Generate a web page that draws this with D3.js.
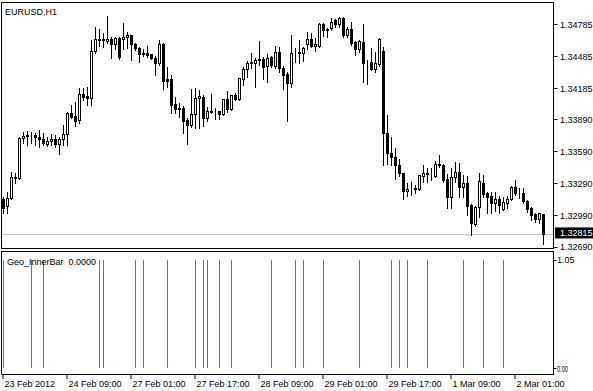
<!DOCTYPE html>
<html>
<head>
<meta charset="utf-8">
<script src="https://cdn.jsdelivr.net/npm/d3@7"></script>
<style>
  body { margin: 0; background: #fff; }
  svg text { font-family: "Liberation Sans", Arial, sans-serif; font-size: 9px; }
</style>
</head>
<body>
<div class="chart_box"></div>
<script>
// EURUSD H1, 23 Feb 2012 17:00 .. 2 Mar 2012 08:00 (136 bars)
var open = [1.33138,1.33076,1.33154,1.33335,1.33341,1.33715,1.33731,1.33737,1.33743,1.33721,
  1.33700,1.33653,1.33684,1.33700,1.33653,1.33706,1.33746,1.33949,1.33918,1.33881,
  1.34121,1.34111,1.34090,1.34526,1.34629,1.34636,1.34620,1.34642,1.34589,1.34651,
  1.34636,1.34661,1.34673,1.34589,1.34558,1.34511,1.34505,1.34495,1.34464,1.34417,
  1.34589,1.34261,1.34261,1.34027,1.33996,1.33990,1.33877,1.33831,1.33934,1.34083,
  1.34099,1.33902,1.33959,1.33965,1.33965,1.33940,1.34074,1.33987,1.34115,1.34080,
  1.34261,1.34355,1.34417,1.34417,1.34442,1.34455,1.34386,1.34470,1.34386,1.34517,
  1.34370,1.34308,1.34230,1.34517,1.34505,1.34505,1.34589,1.34636,1.34579,1.34573,
  1.34785,1.34720,1.34745,1.34817,1.34776,1.34838,1.34682,1.34735,1.34611,1.34542,
  1.34614,1.34427,1.34423,1.34361,1.34402,1.34526,1.33762,1.33575,1.33537,1.33459,
  1.33388,1.33216,1.33232,1.33232,1.33238,1.33356,1.33375,1.33378,1.33356,1.33456,
  1.33459,1.33325,1.33163,1.33350,1.33397,1.33257,1.33288,1.33082,1.32904,1.33069,
  1.33294,1.33200,1.33169,1.33107,1.33138,1.33051,1.33107,1.33144,1.33257,1.33207,
  1.33200,1.33122,1.33060,1.32998,1.32951,1.32998];
var high = [1.33169,1.33216,1.33403,1.33394,1.33731,1.33778,1.33784,1.33778,1.33762,1.33793,
  1.33762,1.33731,1.33753,1.33746,1.33731,1.33840,1.33965,1.34027,1.34058,1.34183,
  1.34183,1.34199,1.34636,1.34754,1.34735,1.34698,1.34860,1.34667,1.34661,1.34661,
  1.34792,1.34714,1.34682,1.34611,1.34573,1.34548,1.34583,1.34505,1.34486,1.34636,
  1.34604,1.34386,1.34308,1.34105,1.34043,1.34018,1.33902,1.34174,1.34183,1.34168,
  1.34121,1.34012,1.34127,1.33996,1.33971,1.34080,1.34161,1.34121,1.34136,1.34277,
  1.34386,1.34442,1.34517,1.34464,1.34629,1.34480,1.34505,1.34486,1.34579,1.34573,
  1.34392,1.34339,1.34682,1.34558,1.34636,1.34573,1.34714,1.34704,1.34651,1.34798,
  1.34792,1.34748,1.34838,1.34829,1.34848,1.34848,1.34754,1.34807,1.34629,1.34636,
  1.34785,1.34448,1.34558,1.34526,1.34651,1.34573,1.33934,1.33731,1.33628,1.33519,
  1.33394,1.33300,1.33310,1.33278,1.33363,1.33466,1.33434,1.33434,1.33506,1.33559,
  1.33475,1.33381,1.33434,1.33491,1.33481,1.33372,1.33363,1.33101,1.33082,1.33388,
  1.33372,1.33216,1.33216,1.33216,1.33175,1.33163,1.33175,1.33269,1.33325,1.33247,
  1.33247,1.33138,1.33069,1.33013,1.33013,1.33007];
var low = [1.33013,1.33013,1.33144,1.33294,1.33335,1.33668,1.33653,1.33668,1.33653,1.33637,
  1.33653,1.33643,1.33653,1.33637,1.33565,1.33653,1.33653,1.33902,1.33831,1.33856,
  1.34074,1.34027,1.34027,1.34511,1.34579,1.34573,1.34604,1.34464,1.34548,1.34455,
  1.34548,1.34558,1.34448,1.34542,1.34433,1.34486,1.34473,1.34455,1.34308,1.34402,
  1.34174,1.34193,1.33949,1.33949,1.33918,1.33762,1.33662,1.33818,1.33809,1.33815,
  1.33831,1.33881,1.33949,1.33893,1.33893,1.33934,1.33962,1.33980,1.34074,1.34074,
  1.34214,1.34292,1.34370,1.34199,1.34402,1.34267,1.34246,1.34386,1.34370,1.34339,
  1.34174,1.33881,1.34199,1.34433,1.34417,1.34442,1.34548,1.34573,1.34536,1.34567,
  1.34673,1.34667,1.34729,1.34760,1.34760,1.34667,1.34661,1.34589,1.34495,1.34526,
  1.34246,1.34224,1.34355,1.34339,1.34395,1.33466,1.33475,1.33466,1.33331,1.33363,
  1.33144,1.33175,1.33185,1.33200,1.33232,1.33310,1.33310,1.33325,1.33350,1.33450,
  1.33310,1.33060,1.33060,1.33310,1.33169,1.33169,1.32998,1.32810,1.32895,1.32982,
  1.33169,1.33013,1.33013,1.33038,1.33013,1.33044,1.33060,1.33138,1.33185,1.33154,
  1.33107,1.33029,1.32951,1.32935,1.32926,1.32726];
var close = [1.33060,1.33154,1.33347,1.33347,1.33715,1.33731,1.33740,1.33743,1.33721,1.33700,
  1.33662,1.33684,1.33700,1.33653,1.33706,1.33746,1.33949,1.33912,1.33871,1.34127,
  1.34099,1.34090,1.34526,1.34636,1.34636,1.34629,1.34642,1.34589,1.34651,1.34473,
  1.34661,1.34673,1.34589,1.34558,1.34495,1.34501,1.34486,1.34464,1.34417,1.34589,
  1.34246,1.34246,1.34018,1.33980,1.33980,1.33871,1.33831,1.33940,1.34090,1.34105,
  1.33902,1.33965,1.33965,1.33962,1.33940,1.34074,1.33987,1.34115,1.34080,1.34271,
  1.34355,1.34417,1.34423,1.34448,1.34455,1.34380,1.34464,1.34392,1.34517,1.34370,
  1.34299,1.34230,1.34511,1.34520,1.34520,1.34558,1.34636,1.34579,1.34589,1.34785,
  1.34723,1.34735,1.34798,1.34776,1.34838,1.34673,1.34735,1.34604,1.34548,1.34620,
  1.34417,1.34424,1.34361,1.34411,1.34642,1.33762,1.33575,1.33537,1.33459,1.33388,
  1.33216,1.33238,1.33238,1.33241,1.33363,1.33381,1.33381,1.33372,1.33466,1.33466,
  1.33319,1.33163,1.33350,1.33397,1.33257,1.33288,1.33076,1.32913,1.33069,1.33310,
  1.33185,1.33163,1.33107,1.33138,1.33082,1.33113,1.33144,1.33257,1.33200,1.33204,
  1.33122,1.33051,1.32988,1.32951,1.33007,1.32815];

// bars where Geo_InnerBar = 1
var innerBars = [0,7,10,24,25,33,35,41,48,50,51,54,57,67,73,75,80,89,97,99,101,106,115,120,125];

var priceTicks = [1.34785,1.34485,1.34185,1.33890,1.33590,1.33290,1.32990,1.32690];
var lastPrice = 1.32815;
var timeLabels = ["23 Feb 2012","24 Feb 09:00","27 Feb 01:00","27 Feb 17:00","28 Feb 09:00",
  "29 Feb 01:00","29 Feb 17:00","1 Mar 09:00","2 Mar 01:00"];
var timeLabelBars = [0,16,32,48,64,80,96,112,128];
var indTicks = [1.05, 0];

var width = 593, height = 391;
var left = 1.5, right = 553.5;
var mainTop = 2.5, mainBottom = 248.5;
var indTop = 251.5, indBottom = 374.5;

var bars = open.map(function(o, i) {
  return {i: i, o: o, h: high[i], l: low[i], c: close[i]};
});

var svg = d3.select(".chart_box").append("svg")
  .attr("width", width)
  .attr("height", height);

var xScale = d3.scaleLinear().domain([0, 135]).range([3.5, 543.5]);
var yScale = d3.scaleLinear().domain([1.32690, 1.34785]).range([247.8, 24]);
var yInd = d3.scaleLinear().domain([0, 1]).range([368, 260]);

function px(v) { return Math.round(v - 0.5) + 0.5; }

svg.append("clipPath").attr("id", "mainClip")
  .append("rect").attr("x", left).attr("y", mainTop)
  .attr("width", right - left).attr("height", mainBottom - mainTop);

// current price line
svg.append("line")
  .attr("x1", left).attr("x2", right)
  .attr("y1", px(yScale(lastPrice))).attr("y2", px(yScale(lastPrice)))
  .attr("stroke", "#c0c0c0").attr("stroke-width", 1);

var candles = svg.append("g").attr("clip-path", "url(#mainClip)")
  .attr("shape-rendering", "crispEdges");

candles.selectAll(".wick").data(bars).enter()
  .append("line")
  .attr("class", "wick")
  .attr("x1", d => xScale(d.i)).attr("x2", d => xScale(d.i))
  .attr("y1", d => Math.round(yScale(d.h)))
  .attr("y2", d => Math.round(yScale(d.l)) + 1)
  .attr("stroke", "#000");

candles.selectAll(".body").data(bars).enter()
  .append("rect")
  .attr("class", "body")
  .attr("x", d => xScale(d.i) - 1)
  .attr("y", d => px(yScale(Math.max(d.o, d.c))))
  .attr("width", 2)
  .attr("height", d => Math.max(0, px(yScale(Math.min(d.o, d.c))) - px(yScale(Math.max(d.o, d.c)))))
  .attr("fill", d => d.c >= d.o ? "#fff" : "#000")
  .attr("stroke", "#000");

// frames
svg.append("rect")
  .attr("x", left).attr("y", mainTop)
  .attr("width", right - left).attr("height", mainBottom - mainTop)
  .attr("fill", "none").attr("stroke", "#000");
svg.append("rect")
  .attr("x", left).attr("y", indTop)
  .attr("width", right - left).attr("height", indBottom - indTop)
  .attr("fill", "none").attr("stroke", "#000");

svg.append("text").attr("x", 5).attr("y", 15).text("EURUSD,H1");

// price axis
var pAxis = svg.append("g");
pAxis.selectAll("line").data(priceTicks).enter()
  .append("line")
  .attr("x1", right).attr("x2", right + 4)
  .attr("y1", d => px(yScale(d))).attr("y2", d => px(yScale(d)))
  .attr("stroke", "#000");
pAxis.selectAll("text").data(priceTicks).enter()
  .append("text")
  .attr("x", 560)
  .attr("y", d => Math.min(yScale(d), 246) + 3.5)
  .text(d => d.toFixed(5));

pAxis.append("rect")
  .attr("x", 555).attr("y", yScale(lastPrice) - 7)
  .attr("width", 38).attr("height", 11)
  .attr("fill", "#000");
pAxis.append("text")
  .attr("x", 560).attr("y", yScale(lastPrice) + 1.5)
  .attr("fill", "#fff")
  .text(lastPrice.toFixed(5));

// indicator window
svg.append("g").attr("shape-rendering", "crispEdges")
  .selectAll("line").data(innerBars).enter()
  .append("line")
  .attr("x1", d => xScale(d)).attr("x2", d => xScale(d))
  .attr("y1", yInd(1)).attr("y2", yInd(0))
  .attr("stroke", "#808000");

svg.append("text").attr("x", 7).attr("y", 265).text("Geo_InnerBar  0.0000").attr("xml:space", "preserve");

svg.append("text").attr("x", 557).attr("y", yInd(1) + 3).text(indTicks[0].toFixed(2));
svg.append("text").attr("x", 557).attr("y", yInd(0) + 3.5)
  .attr("textLength", 11).attr("lengthAdjust", "spacingAndGlyphs")
  .text(indTicks[1].toFixed(2));
svg.append("line").attr("x1", right).attr("x2", right + 3)
  .attr("y1", px(yInd(1))).attr("y2", px(yInd(1))).attr("stroke", "#000");
svg.append("line").attr("x1", right).attr("x2", right + 3)
  .attr("y1", px(yInd(0))).attr("y2", px(yInd(0))).attr("stroke", "#000");

// time axis
var tAxis = svg.append("g");
tAxis.selectAll("line").data(timeLabelBars).enter()
  .append("line")
  .attr("x1", d => xScale(d) - 0.5).attr("x2", d => xScale(d) - 0.5)
  .attr("y1", indBottom).attr("y2", 379)
  .attr("stroke", "#000");
tAxis.selectAll("text").data(timeLabelBars).enter()
  .append("text")
  .attr("x", d => xScale(d) + 1)
  .attr("y", 387)
  .text((d, i) => timeLabels[i]);
</script>
</body>
</html>
